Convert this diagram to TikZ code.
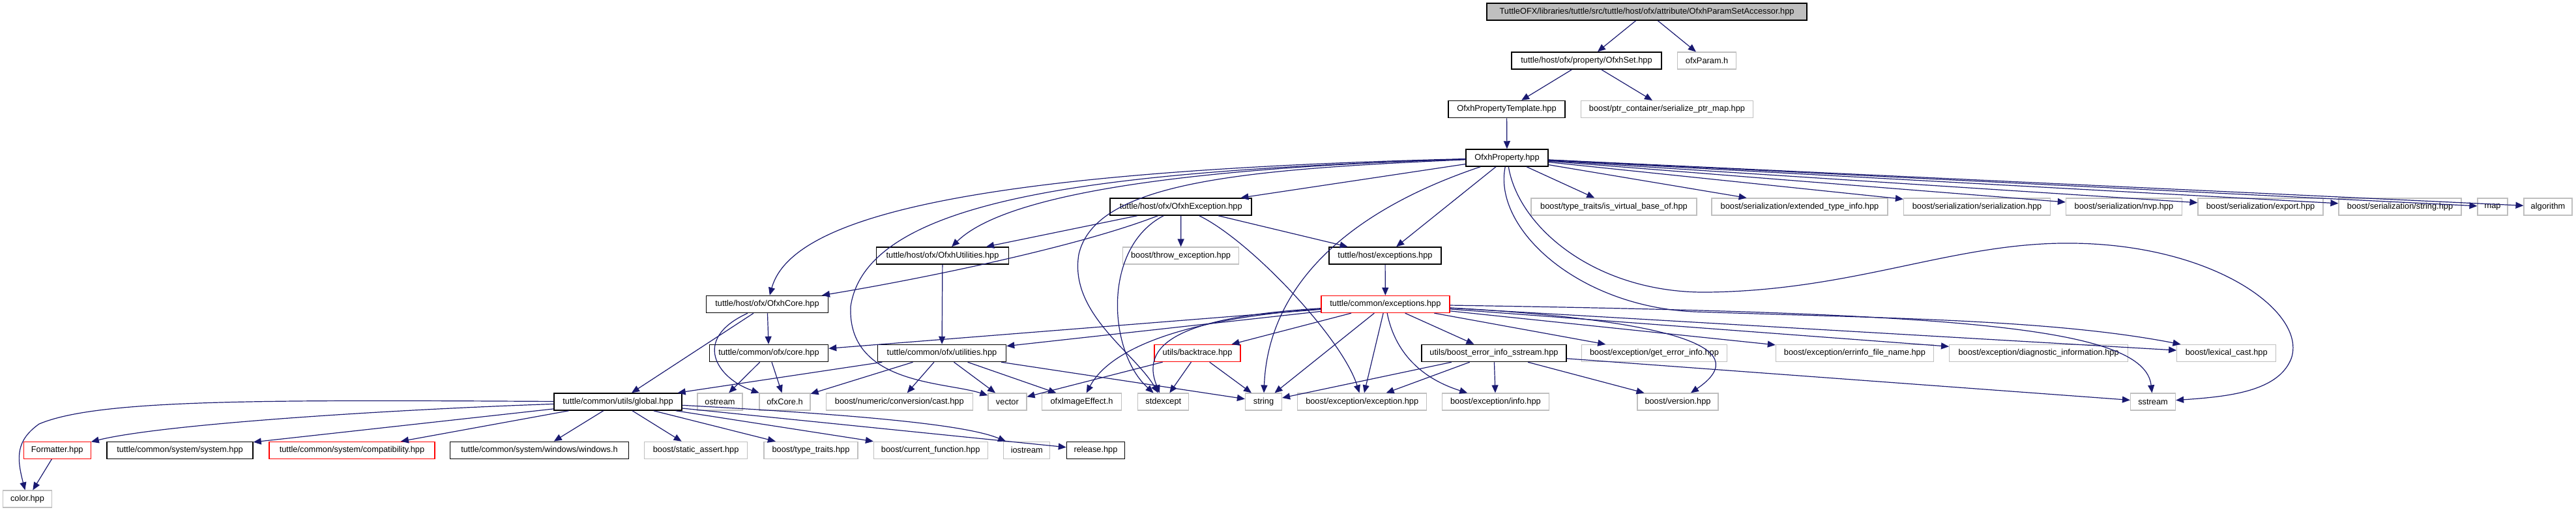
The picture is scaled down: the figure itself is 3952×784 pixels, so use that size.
\documentclass[tikz,border=0pt]{standalone}
\usepackage{fontspec}
\setmainfont{Liberation Sans}
\usetikzlibrary{arrows.meta}
\definecolor{edgeblue}{HTML}{191970}
\definecolor{extgray}{HTML}{BFBFBF}
\begin{document}
\begin{tikzpicture}[x=0.5pt,y=-0.5pt,
 box/.style={rectangle, minimum height=13pt, inner xsep=2pt, inner ysep=0pt, font=\fontsize{6.4}{7}\selectfont, anchor=center},
 doc/.style={box, draw=black, line width=0.75pt},
 ext/.style={box, draw=extgray, line width=0.6pt},
 trunc/.style={box, draw=red, line width=0.65pt},
 rootbox/.style={box, draw=black, fill=extgray, line width=0.75pt},
 dep/.style={color=edgeblue, line width=0.6pt, -{Triangle[length=6pt,width=5pt]}},
]
\useasboundingbox (0,0) rectangle (3952,784);
% row 0-3
\node[rootbox, minimum width=245.5pt] (root) at (2526.5,18) {TuttleOFX/libraries/tuttle/src/tuttle/host/ofx/attribute/OfxhParamSetAccessor.hpp};
\node[doc, minimum width=115pt] (oset) at (2434,93) {tuttle/host/ofx/property/OfxhSet.hpp};
\node[ext, minimum width=45pt] (oparam) at (2618.6,93) {ofxParam.h};
\node[doc, minimum width=89.5pt] (otmpl) at (2311.5,167.5) {OfxhPropertyTemplate.hpp};
\node[ext, minimum width=132pt] (ptrmap) at (2557.5,167.5) {boost/ptr\_container/serialize\_ptr\_map.hpp};
\node[doc, minimum width=62.8pt] (oprop) at (2312,242) {OfxhProperty.hpp};
% row 4
\node[doc, minimum width=108.5pt] (oexc) at (1811.7,317) {tuttle/host/ofx/OfxhException.hpp};
\node[ext, minimum width=127pt] (isvb) at (2476,317) {boost/type\_traits/is\_virtual\_base\_of.hpp};
\node[ext, minimum width=135pt] (exti) at (2761,317) {boost/serialization/extended\_type\_info.hpp};
\node[ext, minimum width=112.5pt] (sser) at (3033,317) {boost/serialization/serialization.hpp};
\node[ext, minimum width=89pt] (snvp) at (3258.4,317) {boost/serialization/nvp.hpp};
\node[ext, minimum width=96pt] (sexp) at (3468,317) {boost/serialization/export.hpp};
\node[ext, minimum width=94pt] (sstr) at (3682,317) {boost/serialization/string.hpp};
\node[ext, minimum width=23pt] (smap) at (3824,317) {map};
\node[ext, minimum width=37pt] (salgo) at (3909,317) {algorithm};
% row 5
\node[doc, minimum width=101.5pt] (outil) at (1446,392) {tuttle/host/ofx/OfxhUtilities.hpp};
\node[ext, minimum width=89pt] (throwe) at (1811.6,392) {boost/throw\_exception.hpp};
\node[doc, minimum width=86pt] (hexc) at (2125,392) {tuttle/host/exceptions.hpp};
% row 6
\node[doc, minimum width=93.5pt] (ocore) at (1177,466.5) {tuttle/host/ofx/OfxhCore.hpp};
\node[trunc, minimum width=98.5pt] (cexc) at (2125.4,466.5) {tuttle/common/exceptions.hpp};
% row 7
\node[doc, minimum width=91pt] (ccore) at (1179.5,541.5) {tuttle/common/ofx/core.hpp};
\node[doc, minimum width=98.5pt] (cutil) at (1445,541.5) {tuttle/common/ofx/utilities.hpp};
\node[trunc, minimum width=66pt] (btrace) at (1837,541.5) {utils/backtrace.hpp};
\node[doc, minimum width=111pt] (beis) at (2292,541.5) {utils/boost\_error\_info\_sstream.hpp};
\node[ext, minimum width=111.3pt] (geterr) at (2538,541.5) {boost/exception/get\_error\_info.hpp};
\node[ext, minimum width=121pt] (errfn) at (2845.4,541.5) {boost/exception/errinfo\_file\_name.hpp};
\node[ext, minimum width=137pt] (diag) at (3127.6,541.5) {boost/exception/diagnostic\_information.hpp};
\node[ext, minimum width=76pt] (lexc) at (3415.7,541.5) {boost/lexical\_cast.hpp};
% row 8
\node[doc, minimum width=98pt] (global) at (948,616) {tuttle/common/utils/global.hpp};
\node[ext, minimum width=34.5pt] (ostream) at (1104.5,616) {ostream};
\node[ext, minimum width=39pt] (ofxcoreh) at (1204,616) {ofxCore.h};
\node[ext, minimum width=112.5pt] (numcast) at (1379.8,616) {boost/numeric/conversion/cast.hpp};
\node[ext, minimum width=29.5pt] (vector) at (1545.4,616) {vector};
\node[ext, minimum width=61pt] (ofxie) at (1659.5,616) {ofxImageEffect.h};
\node[ext, minimum width=39pt] (stdexc) at (1784.8,616) {stdexcept};
\node[ext, minimum width=28pt] (string) at (1938.5,616) {string};
\node[ext, minimum width=99pt] (excexc) at (2089.7,616) {boost/exception/exception.hpp};
\node[ext, minimum width=82pt] (einfo) at (2294.4,616) {boost/exception/info.hpp};
\node[ext, minimum width=62pt] (version) at (2574,616) {boost/version.hpp};
\node[ext, minimum width=34.5pt] (sstream) at (3303,616) {sstream};
% row 9-10
\node[trunc, minimum width=51.5pt] (fmt) at (87.7,690.3) {Formatter.hpp};
\node[doc, minimum width=112pt] (system) at (276,690.3) {tuttle/common/system/system.hpp};
\node[trunc, minimum width=127pt] (compat) at (540,690.3) {tuttle/common/system/compatibility.hpp};
\node[doc, minimum width=137pt] (windows) at (827.5,690.3) {tuttle/common/system/windows/windows.h};
\node[ext, minimum width=79pt] (sassert) at (1067.6,690.3) {boost/static\_assert.hpp};
\node[ext, minimum width=72pt] (ttraits) at (1244,690.3) {boost/type\_traits.hpp};
\node[ext, minimum width=87.5pt] (curfn) at (1427.7,690.3) {boost/current\_function.hpp};
\node[ext, minimum width=35.5pt] (iostream) at (1575.3,690.3) {iostream};
\node[doc, minimum width=44.5pt] (release) at (1681,690.3) {release.hpp};
\node[ext, minimum width=37.5pt] (color) at (42,765) {color.hpp};

% edges: top
\draw[dep] (root) -- (oset);
\draw[dep] (root) -- (oparam);
\draw[dep] (oset) -- (otmpl);
\draw[dep] (oset) -- (ptrmap);
\draw[dep] (otmpl) -- (oprop);
% OfxhProperty
\draw[dep] (oprop) .. controls (1500,262) and (1215,330) .. (ocore);
\draw[dep] (oprop) .. controls (1800,258) and (1540,300) .. (outil);
\draw[dep] (oprop) .. controls (1700,262) and (1330,300) .. (1305,470) .. controls (1300,590) and (1450,585) .. (vector);
\draw[dep] (oprop) .. controls (1900,260) and (1680,280) .. (1655,390) .. controls (1640,480) and (1740,540) .. (stdexc);
\draw[dep] (oprop) .. controls (2050,330) and (1945,450) .. (string);
\draw[dep] (oprop) -- (oexc);
\draw[dep] (oprop) -- (hexc);
\draw[dep] (oprop) -- (isvb);
\draw[dep] (oprop) -- (exti);
\draw[dep] (oprop) -- (sser);
\draw[dep] (oprop) -- (snvp);
\draw[dep] (oprop) -- (sexp);
\draw[dep] (oprop) -- (sstr);
\draw[dep] (oprop) -- (smap);
\draw[dep] (oprop) -- (salgo);
\draw[dep] (oprop) .. controls (2290,350) and (2420,470) .. (2600,478) .. controls (2900,488) and (3150,490) .. (lexc);
\draw[dep] (oprop) .. controls (2330,350) and (2450,450) .. (2620,448) .. controls (2850,445) and (3000,370) .. (3182,373) .. controls (3400,376) and (3540,480) .. (3515,550) .. controls (3495,600) and (3420,608) .. (sstream);
% OfxhException
\draw[dep] (oexc) -- (outil);
\draw[dep] (oexc) .. controls (1650,380) and (1400,430) .. (ocore);
\draw[dep] (oexc) -- (throwe);
\draw[dep] (oexc) -- (hexc);
\draw[dep] (oexc) .. controls (1690,380) and (1700,540) .. (stdexc);
\draw[dep] (oexc) .. controls (1920,370) and (2060,520) .. (excexc);
% others
\draw[dep] (outil) -- (cutil);
\draw[dep] (ocore) -- (ccore);
\draw[dep] (ocore) -- (global);
\draw[dep] (ocore) .. controls (1060,520) and (1100,580) .. (ofxcoreh);
\draw[dep] (hexc) -- (cexc);
\draw[dep] (ccore) -- (ostream);
\draw[dep] (ccore) -- (ofxcoreh);
\draw[dep] (cutil) -- (global);
\draw[dep] (cutil) -- (ofxcoreh);
\draw[dep] (cutil) -- (numcast);
\draw[dep] (cutil) -- (vector);
\draw[dep] (cutil) -- (ofxie);
\draw[dep] (cutil) -- (string);
% common/exceptions
\draw[dep] (cexc) -- (ccore);
\draw[dep] (cexc) -- (cutil);
\draw[dep] (cexc) .. controls (1830,485) and (1745,520) .. (stdexc);
\draw[dep] (cexc) .. controls (1800,490) and (1700,540) .. (ofxie);
\draw[dep] (cexc) -- (btrace);
\draw[dep] (cexc) -- (string);
\draw[dep] (cexc) -- (excexc);
\draw[dep] (cexc) .. controls (2140,540) and (2180,580) .. (einfo);
\draw[dep] (cexc) -- (beis);
\draw[dep] (cexc) -- (geterr);
\draw[dep] (cexc) -- (errfn);
\draw[dep] (cexc) -- (diag);
\draw[dep] (cexc) -- (lexc);
\draw[dep] (cexc) .. controls (3000,480) and (3290,500) .. (sstream);
\draw[dep] (cexc) .. controls (2550,490) and (2700,530) .. (version);
% backtrace
\draw[dep] (btrace) -- (vector);
\draw[dep] (btrace) -- (stdexc);
\draw[dep] (btrace) -- (string);
% boost_error_info_sstream
\draw[dep] (beis) -- (string);
\draw[dep] (beis) -- (excexc);
\draw[dep] (beis) -- (einfo);
\draw[dep] (beis) -- (version);
\draw[dep] (beis) -- (sstream);
% global
\draw[dep] (global) .. controls (400,613) and (150,612) .. (60,650) .. controls (25,675) and (25,700) .. (color);
\draw[dep] (global) .. controls (600,628) and (250,650) .. (fmt);
\draw[dep] (global) -- (system);
\draw[dep] (global) -- (compat);
\draw[dep] (global) -- (windows);
\draw[dep] (global) -- (sassert);
\draw[dep] (global) -- (ttraits);
\draw[dep] (global) -- (curfn);
\draw[dep] (global) .. controls (1300,635) and (1480,650) .. (iostream);
\draw[dep] (global) -- (release);
\draw[dep] (fmt) -- (color);
\end{tikzpicture}
\end{document}
